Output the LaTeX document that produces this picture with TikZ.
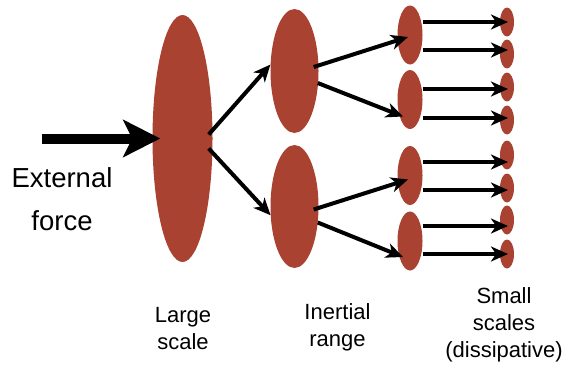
\documentclass[tikz,border=0pt]{standalone}
\usepackage{fontspec}
\setmainfont{Liberation Sans}
\usetikzlibrary{shapes.geometric,arrows.meta}
\definecolor{brick}{RGB}{170,66,50}
\tikzset{
  blob/.style={ellipse, fill=brick, inner sep=0pt},
  arr/.style={line width=4pt, -{Stealth[length=17pt,width=15pt,inset=5pt]}},
  caption/.style={align=center, inner sep=0pt, anchor=north, font=\fontsize{22}{27}\selectfont},
}
\begin{document}
\begin{tikzpicture}[x=1pt,y=-1pt]
\useasboundingbox (0,0) rectangle (569,372);
% eddies, from the largest down to the smallest
\node[blob, minimum width=60pt, minimum height=247pt] (L) at (182.5,138.5) {};
\node[blob, minimum width=48pt, minimum height=124pt] (I1) at (294.5,71) {};
\node[blob, minimum width=48pt, minimum height=123pt] (I2) at (294.5,206.5) {};
\foreach \n/\y in {1/35,2/99.5,3/175.5,4/241}
  \node[blob, minimum width=25pt, minimum height=59pt] (M\n) at (410,\y) {};
\foreach \n/\y in {1/22,2/54,3/87,4/120,5/155,6/188,7/220,8/254}
  \node[blob, minimum width=14pt, minimum height=29pt] (S\n) at (507,\y) {};
% forcing
\coordinate (F) at (42,138.5);
\draw[line width=10pt, -{Stealth[length=37pt,width=37pt,inset=9pt]}] (F) -- ([xshift=8pt]L.west);
\node[font=\fontsize{27.5}{43}\selectfont, align=center, inner sep=0pt, anchor=north] (ext) at (62,167) {External\\force};
% cascade
\draw[arr] ([xshift=-4pt,yshift=4pt]L.east) -- (I1.165);
\draw[arr] ([xshift=-4pt,yshift=-10pt]L.east) -- (I2.200);
\draw[arr] ([xshift=-5pt,yshift=4pt]I1.east) -- ([xshift=-2pt,yshift=-2pt]M1.center);
\draw[arr] ([xshift=-1pt,yshift=-12pt]I1.east) -- ([xshift=-7pt,yshift=-17pt]M2.center);
\draw[arr] ([xshift=-5pt,yshift=-3pt]I2.east) -- ([xshift=-2pt,yshift=-4pt]M3.center);
\draw[arr] ([xshift=-1pt,yshift=-16pt]I2.east) -- ([xshift=-7pt,yshift=-16pt]M4.center);
\foreach \m/\s/\d in {M1/S1/0,M1/S2/4,M2/S3/-2,M2/S4/2,M3/S5/-7,M3/S6/-2,M4/S7/-6,M4/S8/0} {
  \coordinate (h) at ([xshift=1pt,yshift=\d pt]\s.center);
  \draw[arr] (\m.east |- h) -- (h);
}
% labels
\node[caption] (lab1) at (183,307) {Large\\scale};
\node[caption] (lab2) at (337.5,303) {Inertial\\range};
\node[caption] (lab3) at (504,287) {Small\\scales\\(dissipative)};
\end{tikzpicture}
\end{document}
